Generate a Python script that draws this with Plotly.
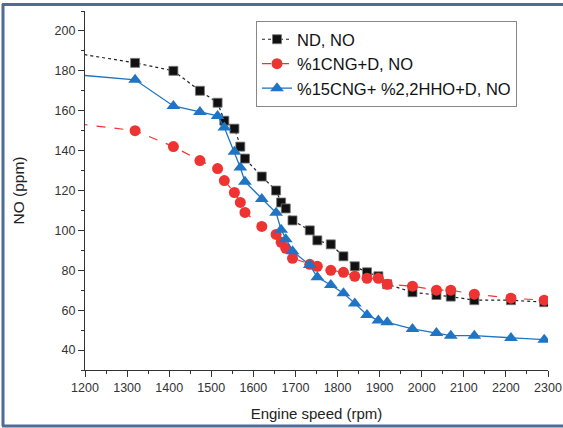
import plotly.graph_objects as go

speed = [1100, 1319, 1410, 1473, 1515, 1531, 1555, 1569, 1580, 1620, 1654, 1666, 1677, 1693,
         1734, 1752, 1784, 1814, 1841, 1870, 1897, 1918, 1978, 2035, 2069, 2125, 2212, 2291]

nd_no = [191.5, 184, 180, 170, 164, 155, 151, 142, 136, 127, 120, 114, 111, 105,
         100, 95, 93, 87, 82, 79, 77, 73, 69, 67.6, 66.8, 65, 65, 64]

cng1_no = [155.5, 150, 142, 135, 131, 125, 119, 114, 109, 102, 98, 94, 91, 86,
           83, 82, 80, 79, 77, 76, 76, 73, 72, 70, 70, 68, 66, 65]

cng15_hho_no = [179.5, 175.5, 162.4, 159.4, 157.4, 151.6, 139.4, 131.5, 124.4, 115.7, 108.8, 100.3, 95.6, 89.6,
                82.6, 76.5, 72.6, 68.5, 63.4, 57.6, 54.8, 53.9, 50.6, 48.6, 47.2, 47.2, 46, 45.2]

names = ["ND, NO", "%1CNG+D, NO", "%15CNG+ %2,2HHO+D, NO"]

W, H = 563, 428
L, R, T, B = 85, 15, 11, 58

fig = go.Figure()
fig.add_trace(go.Scatter(x=speed, y=nd_no, name=names[0], mode="lines+markers",
                         line=dict(color="#222222", width=1.2, dash="dot"),
                         marker=dict(symbol="square", size=9, color="#111111",
                                     line=dict(color="#777777", width=0.8))))
fig.add_trace(go.Scatter(x=speed, y=cng1_no, name=names[1], mode="lines+markers",
                         line=dict(color="#ee3333", width=1.2, dash="dash"),
                         marker=dict(symbol="circle", size=11, color="#ee3333")))
fig.add_trace(go.Scatter(x=speed, y=cng15_hho_no, name=names[2], mode="lines+markers",
                         line=dict(color="#1f74c4", width=1.3),
                         marker=dict(symbol="triangle-up", size=12, color="#1f74c4")))

pw = W - L - R
ph = H - T - B


def px(x):
    return (x - L) / pw


def py(y):
    return (H - B - y) / ph


frame_col = "#4f6c94"
fig.add_shape(type="line", xref="paper", yref="paper",
              x0=px(3), y0=py(4), x1=px(3), y1=py(426),
              line=dict(color=frame_col, width=3), layer="above")
fig.add_shape(type="line", xref="paper", yref="paper",
              x0=px(2), y0=py(426), x1=px(563), y1=py(426),
              line=dict(color=frame_col, width=3), layer="above")

axis_common = dict(showgrid=False, zeroline=False, showline=True, linecolor="#333333", linewidth=1.2,
                   ticks="outside", ticklen=6, tickcolor="#333333", tickwidth=1.2,
                   tickfont=dict(family="Liberation Sans, Arial", size=12.5, color="#333333"),
                   mirror=False, automargin=False)

fig.update_layout(
    width=W, height=H,
    margin=dict(l=L, r=R, t=T, b=B, autoexpand=False),
    paper_bgcolor="white", plot_bgcolor="white",
    font=dict(family="Liberation Sans, Arial", color="#222222"),
    xaxis=dict(range=[1200, 2300], dtick=100, tick0=1200,
               minor=dict(ticks="outside", dtick=50, ticklen=3, tickcolor="#333333", tickwidth=1),
               title=dict(text="Engine speed (rpm)", font=dict(size=15, color="#222222"), standoff=14),
               **axis_common),
    yaxis=dict(range=[30, 210], tickvals=[40, 60, 80, 100, 120, 140, 160, 180, 200],
               minor=dict(ticks="outside", dtick=10, ticklen=3, tickcolor="#333333", tickwidth=1),
               title=dict(text="NO (ppm)", font=dict(size=15.5, color="#222222"), standoff=26),
               **axis_common),
    legend=dict(x=px(256), y=py(21), xanchor="left", yanchor="top",
                bordercolor="#888888", borderwidth=1, bgcolor="white",
                font=dict(size=16.5, color="#111111"), tracegroupgap=0,
                itemwidth=30),
    showlegend=True,
)

post = (
    "document.body.style.margin='0';document.body.style.overflow='hidden';"
    "var bar=document.createElement('div');"
    "bar.style.cssText='position:absolute;left:2px;top:3px;width:561px;height:3px;"
    "background:" + frame_col + ";z-index:1000;pointer-events:none;';"
    "document.body.appendChild(bar);"
)

fig.write_html("out.html", config={"displayModeBar": False}, post_script=post)
